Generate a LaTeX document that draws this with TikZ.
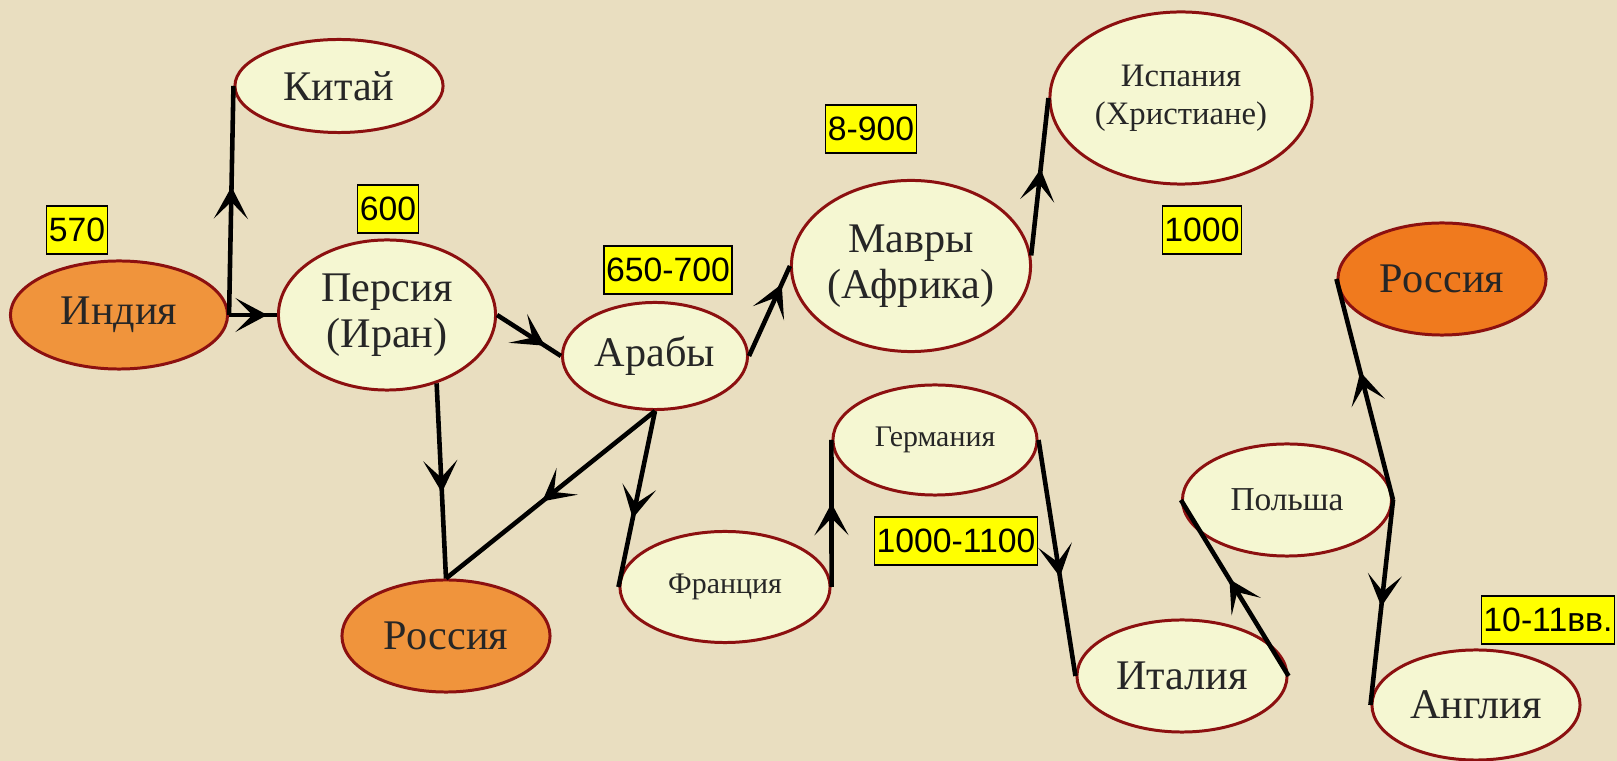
\documentclass[tikz,border=0pt]{standalone}
\usepackage{fontspec}
\setmainfont{Liberation Serif}
\newfontfamily\labelfont{Liberation Sans}
\usepackage{tikz}
\usetikzlibrary{shapes.geometric,arrows.meta,decorations.markings}

\definecolor{parchment}{RGB}{233,222,192}
\definecolor{cream}{RGB}{245,247,210}
\definecolor{rim}{RGB}{140,16,16}
\definecolor{pale orange}{RGB}{240,148,60}
\definecolor{deep orange}{RGB}{240,122,30}
\definecolor{yellowbox}{RGB}{255,255,0}

\tikzset{
  land/.style={ellipse, draw=rim, line width=0.85pt, fill=cream, inner sep=0pt,
    align=center, text=black!85, minimum width=2.08cm, minimum height=1.12cm,
    font=\fontsize{12}{13}\selectfont},
  year/.style={draw=black, line width=0.4pt, fill=yellowbox, inner xsep=0.6pt,
    inner ysep=0pt, minimum height=4.8mm, font=\labelfont\fontsize{9.6}{12}\selectfont},
  flow/.style={draw, line width=1.3pt, postaction={decorate},
    decoration={markings, mark=at position #1 with
      {\arrow{Stealth[length=3.2mm, width=3.4mm, inset=1.7mm]}}}},
  flow/.default=0.56
}

\begin{document}
\begin{tikzpicture}[x=0.01cm, y=-0.01cm]
\useasboundingbox (0,0) rectangle (1617,761);
\fill[parchment] (0,0) rectangle (1617,761);

\node[land, fill=pale orange, minimum width=2.17cm, minimum height=1.08cm] (ind) at (119,315) {Индия};
    \node[land, minimum height=0.93cm] (kit) at (339,86) {Китай};
    \node[land, minimum width=2.17cm, minimum height=1.5cm] (per) at (387,315) {Персия\\(Иран)};
    \node[land, minimum width=1.85cm, minimum height=1.07cm] (arab) at (655,356) {Арабы};
    \node[land, minimum width=2.39cm, minimum height=1.71cm] (mav) at (911,266) {Мавры\\(Африка)};
    \node[land, minimum width=2.62cm, minimum height=1.72cm, font=\fontsize{9.3}{10.8}\selectfont] (isp) at (1181,98) {Испания\\(Христиане)};
    \node[land, minimum width=2.04cm, minimum height=1.1cm, font=\fontsize{8.5}{10}\selectfont] (ger) at (935,440) {Германия};
    \node[land, minimum width=2.1cm, minimum height=1.11cm, font=\fontsize{8.5}{10}\selectfont] (fra) at (725,587) {Франция};
    \node[land, fill=pale orange] (rus1) at (446,636) {Россия};
    \node[land, minimum width=2.1cm] (ita) at (1182,676) {Италия};
    \node[land, minimum width=2.09cm, font=\fontsize{9.5}{11}\selectfont] (pol) at (1287,500) {Польша};
    \node[land, fill=deep orange] (rus2) at (1442,279) {Россия};
    \node[land, minimum height=1.1cm] (ang) at (1476,705) {Англия};

    \node[year, minimum width=5.8mm] (y570) at (77,230) {570};
    \node[year, minimum width=5.8mm] (y600) at (388,209) {600};
    \node[year] (y650) at (668,270) {650-700};
    \node[year] (y800) at (871,129) {8-900};
    \node[year] (y1000) at (1202,230) {1000};
    \node[year] (y1050) at (956,541) {1000-1100};
    \node[year] (y10) at (1548,620) {10-11вв.};

    \path (ind.east) edge[flow] (kit.west);
    \path (ind.east) edge[flow=0.8] (per.west);
    \path (per.east) edge[flow=0.75] (arab.west);
    \path (per.-54) edge[flow] (rus1.north);
    \path (arab.south) edge[flow=0.54] (rus1.north);
    \path (arab.south) edge[flow=0.61] (fra.west);
    \path (arab.east) edge[flow=0.8] (mav.west);
    \path (mav.5) edge[flow=0.55] (isp.west);
    \path (fra.east) edge[flow=0.57] (ger.west);
    \path (ger.east) edge[flow=0.58] (ita.west);
    \path (ita.east) edge[flow=0.55] (pol.west);
    \path (pol.east) edge[flow=0.58] (rus2.west);
    \path (pol.east) edge[flow=0.52] (ang.west);
\end{tikzpicture}
\end{document}
